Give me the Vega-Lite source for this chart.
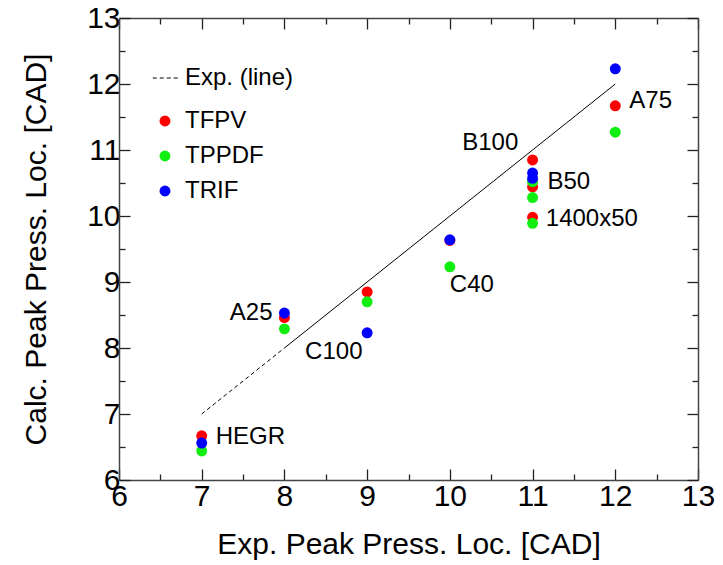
{
  "$schema": "https://vega.github.io/schema/vega-lite/v6.json",
  "width": 579,
  "height": 462,
  "padding": {"left": 21, "top": 3, "right": 10, "bottom": 5},
  "background": "white",
  "config": {
    "font": "Liberation Sans",
    "view": {"stroke": null},
    "axis": {
      "grid": false,
      "domainColor": "#444",
      "domainWidth": 1.5,
      "tickColor": "#222",
      "tickWidth": 1.3,
      "labelFontSize": 30,
      "labelColor": "black",
      "titleFontSize": 30,
      "titleFontWeight": "normal",
      "titleColor": "black",
      "labelFlush": false,
      "labelOverlap": false
    },
    "legend": {
      "labelFontSize": 24,
      "labelColor": "black",
      "title": null
    }
  },
  "datasets": {
    "pts": [
      {"exp": 7, "calc": 6.67, "series": "TFPV"},
      {"exp": 8, "calc": 8.46, "series": "TFPV"},
      {"exp": 9, "calc": 8.85, "series": "TFPV"},
      {"exp": 10, "calc": 9.63, "series": "TFPV"},
      {"exp": 11, "calc": 10.85, "series": "TFPV"},
      {"exp": 11, "calc": 10.44, "series": "TFPV"},
      {"exp": 11, "calc": 9.98, "series": "TFPV"},
      {"exp": 12, "calc": 11.67, "series": "TFPV"},
      {"exp": 7, "calc": 6.44, "series": "TPPDF"},
      {"exp": 8, "calc": 8.29, "series": "TPPDF"},
      {"exp": 9, "calc": 8.70, "series": "TPPDF"},
      {"exp": 10, "calc": 9.23, "series": "TPPDF"},
      {"exp": 11, "calc": 10.52, "series": "TPPDF"},
      {"exp": 11, "calc": 10.28, "series": "TPPDF"},
      {"exp": 11, "calc": 9.89, "series": "TPPDF"},
      {"exp": 12, "calc": 11.27, "series": "TPPDF"},
      {"exp": 7, "calc": 6.56, "series": "TRIF"},
      {"exp": 8, "calc": 8.53, "series": "TRIF"},
      {"exp": 9, "calc": 8.23, "series": "TRIF"},
      {"exp": 10, "calc": 9.64, "series": "TRIF"},
      {"exp": 11, "calc": 10.65, "series": "TRIF"},
      {"exp": 11, "calc": 10.57, "series": "TRIF"},
      {"exp": 12, "calc": 12.23, "series": "TRIF"}
    ],
    "solid": [
      {"exp": 8, "calc": 8},
      {"exp": 12, "calc": 12}
    ],
    "dashed": [
      {"exp": 7, "calc": 7, "name": "Exp. (line)"},
      {"exp": 8, "calc": 8, "name": "Exp. (line)"}
    ],
    "labels": [
      {"exp": 12.17, "calc": 11.74, "label": "A75"},
      {"exp": 10.15, "calc": 11.11, "label": "B100"},
      {"exp": 11.18, "calc": 10.52, "label": "B50"},
      {"exp": 11.16, "calc": 9.95, "label": "1400x50"},
      {"exp": 10.0, "calc": 8.95, "label": "C40"},
      {"exp": 8.25, "calc": 7.94, "label": "C100"},
      {"exp": 7.34, "calc": 8.53, "label": "A25"},
      {"exp": 7.17, "calc": 6.65, "label": "HEGR"}
    ]
  },
  "layer": [
    {
      "data": {"name": "pts"},
      "mark": {"type": "point", "filled": true, "size": 120, "opacity": 1},
      "encoding": {
        "x": {
          "field": "exp", "type": "quantitative",
          "scale": {"domain": [6, 13], "nice": false, "zero": false},
          "axis": {
            "orient": "bottom",
            "title": "Exp. Peak Press. Loc. [CAD]",
            "values": [6, 6.5, 7, 7.5, 8, 8.5, 9, 9.5, 10, 10.5, 11, 11.5, 12, 12.5, 13],
            "labelExpr": "datum.value % 1 === 0 ? format(datum.value, 'd') : ''",
            "tickSize": {"condition": {"test": "datum.value % 1 === 0", "value": -11}, "value": -6},
            "labelPadding": 12,
            "titlePadding": 13
          }
        },
        "y": {
          "field": "calc", "type": "quantitative",
          "scale": {"domain": [6, 13], "nice": false, "zero": false},
          "axis": {
            "orient": "left",
            "title": "Calc. Peak Press. Loc. [CAD]",
            "values": [6, 6.5, 7, 7.5, 8, 8.5, 9, 9.5, 10, 10.5, 11, 11.5, 12, 12.5, 13],
            "labelExpr": "datum.value % 1 === 0 ? format(datum.value, 'd') : ''",
            "tickSize": {"condition": {"test": "datum.value % 1 === 0", "value": -11}, "value": -6},
            "labelPadding": 10,
            "titlePadding": 35
          }
        },
        "color": {
          "field": "series", "type": "nominal",
          "scale": {"domain": ["TFPV", "TPPDF", "TRIF"], "range": ["#ff0000", "#11ee11", "#0000ff"]},
          "legend": {
            "orient": "none",
            "legendX": 34,
            "legendY": 91,
            "symbolType": "circle",
            "symbolSize": 120,
            "symbolOpacity": 1,
            "labelOffset": 8,
            "rowPadding": 11
          }
        }
      }
    },
    {
      "data": {"name": "solid"},
      "mark": {"type": "line", "color": "black", "strokeWidth": 1},
      "encoding": {
        "x": {
          "field": "exp", "type": "quantitative",
          "scale": {"domain": [6, 13], "nice": false, "zero": false},
          "axis": {
            "orient": "top", "title": null, "labels": false,
            "values": [6, 6.5, 7, 7.5, 8, 8.5, 9, 9.5, 10, 10.5, 11, 11.5, 12, 12.5, 13],
            "tickSize": {"condition": {"test": "datum.value % 1 === 0", "value": -11}, "value": -6}
          }
        },
        "y": {
          "field": "calc", "type": "quantitative",
          "scale": {"domain": [6, 13], "nice": false, "zero": false},
          "axis": {
            "orient": "right", "title": null, "labels": false,
            "values": [6, 6.5, 7, 7.5, 8, 8.5, 9, 9.5, 10, 10.5, 11, 11.5, 12, 12.5, 13],
            "tickSize": {"condition": {"test": "datum.value % 1 === 0", "value": -11}, "value": -6}
          }
        }
      }
    },
    {
      "data": {"name": "dashed"},
      "mark": {"type": "line", "color": "black", "strokeWidth": 1},
      "encoding": {
        "x": {"field": "exp", "type": "quantitative", "axis": null},
        "y": {"field": "calc", "type": "quantitative", "axis": null},
        "strokeDash": {
          "field": "name", "type": "nominal",
          "scale": {"range": [[4, 3]]},
          "legend": {
            "orient": "none",
            "legendX": 33,
            "legendY": 46,
            "symbolType": "stroke",
            "symbolSize": 700,
            "symbolStrokeColor": "black",
            "symbolStrokeWidth": 1,
            "labelOffset": 5
          }
        }
      }
    },
    {
      "data": {"name": "labels"},
      "mark": {"type": "text", "align": "left", "baseline": "middle", "fontSize": 24, "color": "black"},
      "encoding": {
        "x": {"field": "exp", "type": "quantitative", "axis": null},
        "y": {"field": "calc", "type": "quantitative", "axis": null},
        "text": {"field": "label", "type": "nominal"}
      }
    }
  ],
  "resolve": {"axis": {"x": "independent", "y": "independent"}}
}
